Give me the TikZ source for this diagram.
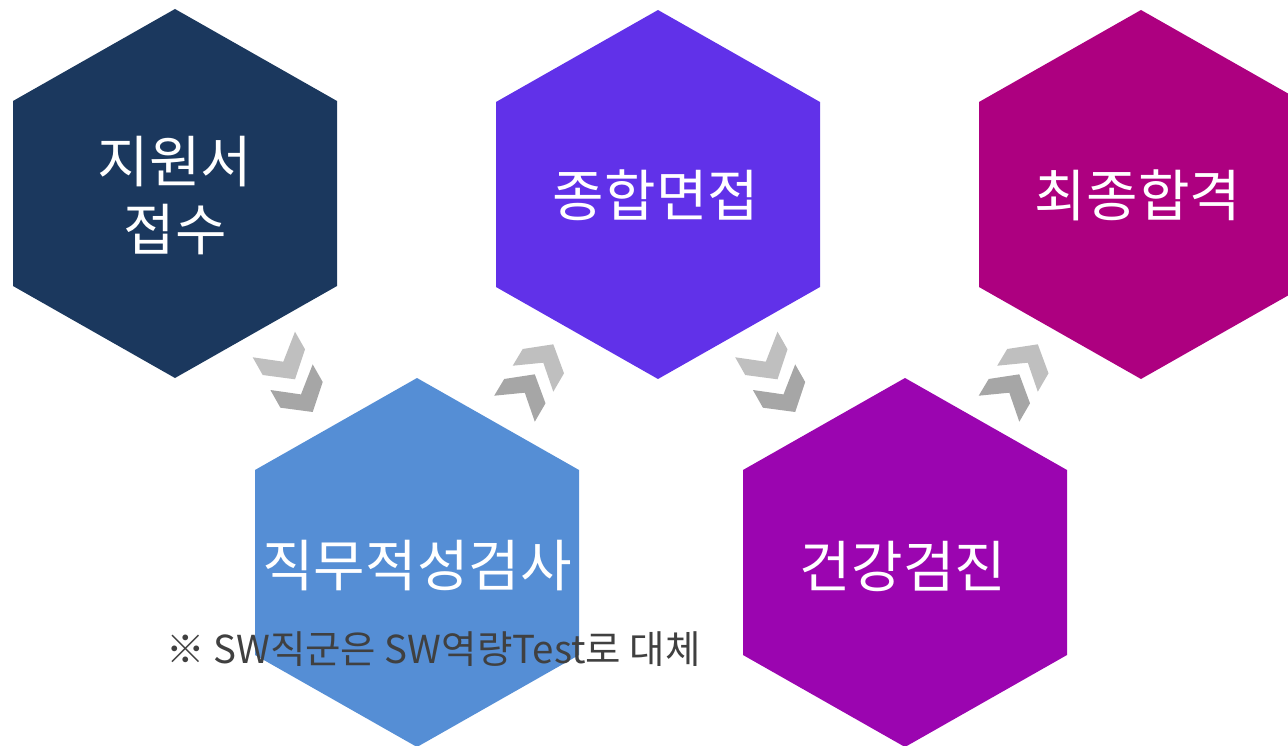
\documentclass[tikz,border=0pt]{standalone}
\usepackage{fontspec}
\setmainfont{Noto Sans CJK KR}
\definecolor{hexnavy}{HTML}{1B385E}
\definecolor{hexblue}{HTML}{558ED5}
\definecolor{hexviolet}{HTML}{6131E9}
\definecolor{hexmagenta}{HTML}{AD0080}
\definecolor{hexpurple}{HTML}{9B05B0}
\definecolor{chevlight}{HTML}{BFBFBF}
\definecolor{chevdark}{HTML}{A6A6A6}
\definecolor{notegray}{HTML}{404040}
\tikzset{
  hexlabel/.style={text=white,font=\fontsize{56}{68}\selectfont,align=center,inner sep=0pt},
  notelabel/.style={text=notegray,font=\fontsize{38.5}{44}\selectfont,inner sep=0pt,anchor=west},
  pics/chevdown/.style={code={
    \fill[chevlight] (252.7,357.3) -- (283.3,361.7) -- (295,331.7) -- (305,349.3) -- (295,379.3) -- (262.7,375) -- cycle;
    \fill[chevdark,shift={(17.7,32.7)}] (252.7,357.3) -- (283.3,361.7) -- (295,331.7) -- (305,349.3) -- (295,379.3) -- (262.7,375) -- cycle;
  }},
  pics/chevup/.style={code={
    \fill[chevdark,shift={(-18.5,30)}] (522.7,349) -- (553.3,344.3) -- (564,373.3) -- (553.3,391.7) -- (543.3,362.7) -- (512.7,365.7) -- cycle;
    \fill[chevlight] (522.7,349) -- (553.3,344.3) -- (564,373.3) -- (553.3,391.7) -- (543.3,362.7) -- (512.7,365.7) -- cycle;
  }}
}
\newcommand\hexagonshape[3]{%
  \fill[#3] (#1,#2-185) -- (#1+162,#2-93) -- (#1+162,#2+92) -- (#1,#2+184) -- (#1-162,#2+92) -- (#1-162,#2-93) -- cycle;}
\begin{document}
\begin{tikzpicture}[x=1pt,y=-1pt]
\useasboundingbox (0,0) rectangle (1288,746);
\clip (0,0) rectangle (1288,746);
\hexagonshape{175}{194}{hexnavy}
\hexagonshape{417}{563}{hexblue}
\hexagonshape{658}{195}{hexviolet}
\hexagonshape{1141}{195}{hexmagenta}
\hexagonshape{905}{563}{hexpurple}
\pic at (0,0) {chevdown};
\pic at (0,0) {chevup};
\pic at (482.5,0) {chevdown};
\pic at (484.5,0) {chevup};
\node[hexlabel] (t1) at (175,196) {지원서\\접수};
\node[hexlabel] (t2) at (417,566) {직무적성검사};
\node[hexlabel] (t3) at (656,195) {종합면접};
\node[hexlabel] (t4) at (1138,195) {최종합격};
\node[hexlabel] (t5) at (903,566) {건강검진};
\node[notelabel] (note) at (166,649) {※ SW직군은 SW역량Test로 대체};
\end{tikzpicture}
\end{document}
